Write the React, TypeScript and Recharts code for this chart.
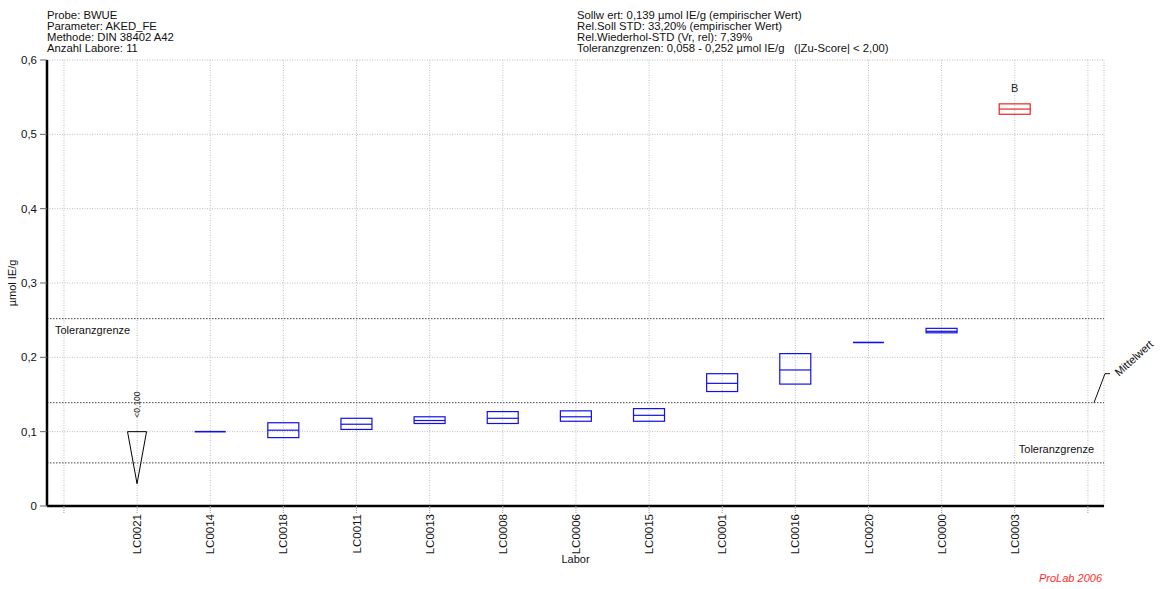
import React from 'react';
import { ComposedChart, Bar, XAxis, YAxis, CartesianGrid, ReferenceLine } from 'recharts';

// Labs in plotted order (slot 1..13; slots 0 and 14 stay empty)
const labs = ['LC0021', 'LC0014', 'LC0018', 'LC0011', 'LC0013', 'LC0008', 'LC0006', 'LC0015', 'LC0001', 'LC0016', 'LC0020', 'LC0000', 'LC0003'];
const boxLow = [0.03, 0.1, 0.092, 0.103, 0.111, 0.111, 0.114, 0.114, 0.154, 0.164, 0.22, 0.233, 0.527];
const boxHigh = [0.1, 0.1, 0.112, 0.118, 0.12, 0.127, 0.128, 0.131, 0.178, 0.205, 0.22, 0.239, 0.541];
const medians = [0.1, 0.1, 0.102, 0.11, 0.115, 0.118, 0.12, 0.122, 0.165, 0.183, 0.22, 0.235, 0.534];
// 'limit' = below detection limit, 'ok' = accepted, 'outlier' = flagged
const markKinds = ['limit', 'ok', 'ok', 'ok', 'ok', 'ok', 'ok', 'ok', 'ok', 'ok', 'ok', 'ok', 'outlier'];
const markNotes = ['<0,100', '', '', '', '', '', '', '', '', '', '', '', 'B'];

const sollwert = 0.139;
const tolLow = 0.058;
const tolHigh = 0.252;

const yTicks = [0, 0.1, 0.2, 0.3, 0.4, 0.5, 0.6];
const xSlots = [0, 1, 2, 3, 4, 5, 6, 7, 8, 9, 10, 11, 12, 13, 14];

const headerLeft = ['Probe: BWUE', 'Parameter: AKED_FE', 'Methode: DIN 38402 A42', 'Anzahl Labore: 11'];
const headerRight = [
  'Sollw ert: 0,139 µmol IE/g (empirischer Wert)',
  'Rel.Soll STD: 33,20% (empirischer Wert)',
  'Rel.Wiederhol-STD (Vr, rel): 7,39%',
  'Toleranzgrenzen: 0,058 - 0,252 µmol IE/g   (|Zu-Score| < 2,00)',
];

const data = labs.map((lab, i) => ({
  slot: i + 1,
  lab,
  low: boxLow[i],
  high: boxHigh[i],
  median: medians[i],
  kind: markKinds[i],
  note: markNotes[i],
}));

const FONT = 'Liberation Sans, Arial, sans-serif';

const BoxShape = (props: any) => {
  const { x, y, width, height, payload } = props;
  if (x == null || y == null) return null;
  const cx = x + width / 2;
  const h = height || 0;
  if (payload.kind === 'limit') {
    const half = 9.5;
    return (
      <g>
        <polygon
          points={`${cx - half},${y} ${cx + half},${y} ${cx},${y + h}`}
          fill="none"
          stroke="#000"
          strokeWidth={1}
        />
        <text
          x={cx}
          y={y - 14}
          transform={`rotate(-90 ${cx} ${y - 14})`}
          dy="0.35em"
          fontSize={8.5}
          fontFamily={FONT}
          fill="#222"
        >
          {payload.note}
        </text>
      </g>
    );
  }
  const color = payload.kind === 'outlier' ? '#ee2222' : '#1010ee';
  const span = payload.high - payload.low;
  const my = span > 0 ? y + (h * (payload.high - payload.median)) / span : y;
  // a collapsed box (all results equal) is drawn as one heavier line
  const sw = span > 0 ? 1.2 : 1.6;
  return (
    <g>
      <rect x={x} y={y} width={width} height={h} fill="none" stroke={color} strokeWidth={sw} />
      <line x1={x} x2={x + width} y1={my} y2={my} stroke={color} strokeWidth={sw} />
      {payload.note ? (
        <text x={cx} y={y - 12} textAnchor="middle" fontSize={11} fontFamily={FONT} fill="#222">
          {payload.note}
        </text>
      ) : null}
    </g>
  );
};

const LabTick = (props: any) => {
  const { x, y, payload } = props;
  const name = labs[payload.value - 1] ?? '';
  return (
    <text
      x={x}
      y={y}
      transform={`rotate(-90 ${x} ${y})`}
      textAnchor="end"
      dy="0.35em"
      fontSize={11.5}
      fontFamily={FONT}
      fill="#111"
    >
      {name}
    </text>
  );
};

const MeanLabel = (props: any) => {
  const vb = props.viewBox;
  if (!vb) return null;
  const right = vb.x + vb.width;
  const y = vb.y;
  const tx = right + 15;
  const ty = y - 26;
  return (
    <g>
      <polyline
        points={`${right - 10},${y} ${right + 1},${y - 29} ${right + 6},${y - 29}`}
        fill="none"
        stroke="#111"
        strokeWidth={1}
      />
      <text x={tx} y={ty} transform={`rotate(-42 ${tx} ${ty})`} fontSize={11} fontFamily={FONT} fill="#111">
        Mittelwert
      </text>
    </g>
  );
};

const fmtY = (v: number) => (v === 0 ? '0' : v.toFixed(1).replace('.', ','));

export default function App() {
  return (
    <div style={{ position: 'absolute', left: 0, top: 0, width: 1164, height: 589, background: '#fff' }}>
      <ComposedChart
        width={1164}
        height={589}
        data={data}
        margin={{ top: 60, right: 60, bottom: 0, left: 0 }}
      >
        <CartesianGrid stroke="#bdbdbd" strokeDasharray="1 1.5" />
        <XAxis
          dataKey="slot"
          type="number"
          domain={[-0.232, 14.22]}
          allowDataOverflow
          ticks={xSlots}
          interval={0}
          height={83}
          tick={<LabTick />}
          tickSize={7}
          tickMargin={1}
          tickLine={{ stroke: '#999', strokeDasharray: '1 1' }}
          axisLine={{ stroke: '#000', strokeWidth: 2.5 }}
          label={{ value: 'Labor', position: 'insideBottom', offset: 26, fontSize: 11, fontFamily: FONT, fill: '#111' }}
        />
        <XAxis
          xAxisId="frame"
          orientation="top"
          type="number"
          domain={[-0.232, 14.22]}
          allowDataOverflow
          height={0}
          tick={false}
          tickLine={false}
          axisLine={{ stroke: '#222', strokeWidth: 1.3 }}
        />
        <YAxis
          type="number"
          domain={[0, 0.6]}
          ticks={yTicks}
          width={47}
          tickFormatter={fmtY}
          tickSize={7}
          tickMargin={3}
          tick={{ fontSize: 11.5, fontFamily: FONT, fill: '#111' }}
          tickLine={{ stroke: '#666' }}
          axisLine={{ stroke: '#000', strokeWidth: 2.5 }}
          label={{
            value: 'µmol IE/g',
            angle: -90,
            position: 'insideLeft',
            offset: 12,
            style: { textAnchor: 'middle', fontSize: 11, fontFamily: FONT, fill: '#111' },
          }}
        />
        <YAxis
          yAxisId="frame"
          orientation="right"
          type="number"
          domain={[0, 0.6]}
          width={0}
          tick={false}
          tickLine={false}
          axisLine={{ stroke: '#555', strokeWidth: 2 }}
        />
        <ReferenceLine
          y={tolHigh}
          stroke="#444"
          strokeDasharray="1.5 1.5"
          label={{ value: 'Toleranzgrenze', position: 'insideTopLeft', offset: 8, fontSize: 11, fontFamily: FONT, fill: '#111' }}
        />
        <ReferenceLine y={sollwert} stroke="#444" strokeDasharray="1.5 1.5" label={<MeanLabel />} />
        <ReferenceLine
          y={tolLow}
          stroke="#444"
          strokeDasharray="1.5 1.5"
          label={{ value: 'Toleranzgrenze', position: 'insideBottomRight', offset: 10, fontSize: 11, fontFamily: FONT, fill: '#111' }}
        />
        <Bar
          dataKey={(d: any) => [d.low, d.high]}
          barSize={31}
          shape={<BoxShape />}
          isAnimationActive={false}
        />
      </ComposedChart>
      <svg
        width={1164}
        height={589}
        style={{ position: 'absolute', left: 0, top: 0, pointerEvents: 'none' }}
      >
        {headerLeft.map((t, i) => (
          <text key={t} x={47} y={18.5 + i * 11.2} fontSize={11.3} fontFamily={FONT} fill="#111">
            {t}
          </text>
        ))}
        {headerRight.map((t, i) => (
          <text key={t} x={577} y={18.5 + i * 11.2} fontSize={11.3} fontFamily={FONT} fill="#111" style={{ whiteSpace: 'pre' }}>
            {t}
          </text>
        ))}
        <text x={1102} y={582} textAnchor="end" fontSize={11} fontStyle="italic" fontFamily={FONT} fill="#ff2a2a">
          ProLab 2006
        </text>
      </svg>
    </div>
  );
}
